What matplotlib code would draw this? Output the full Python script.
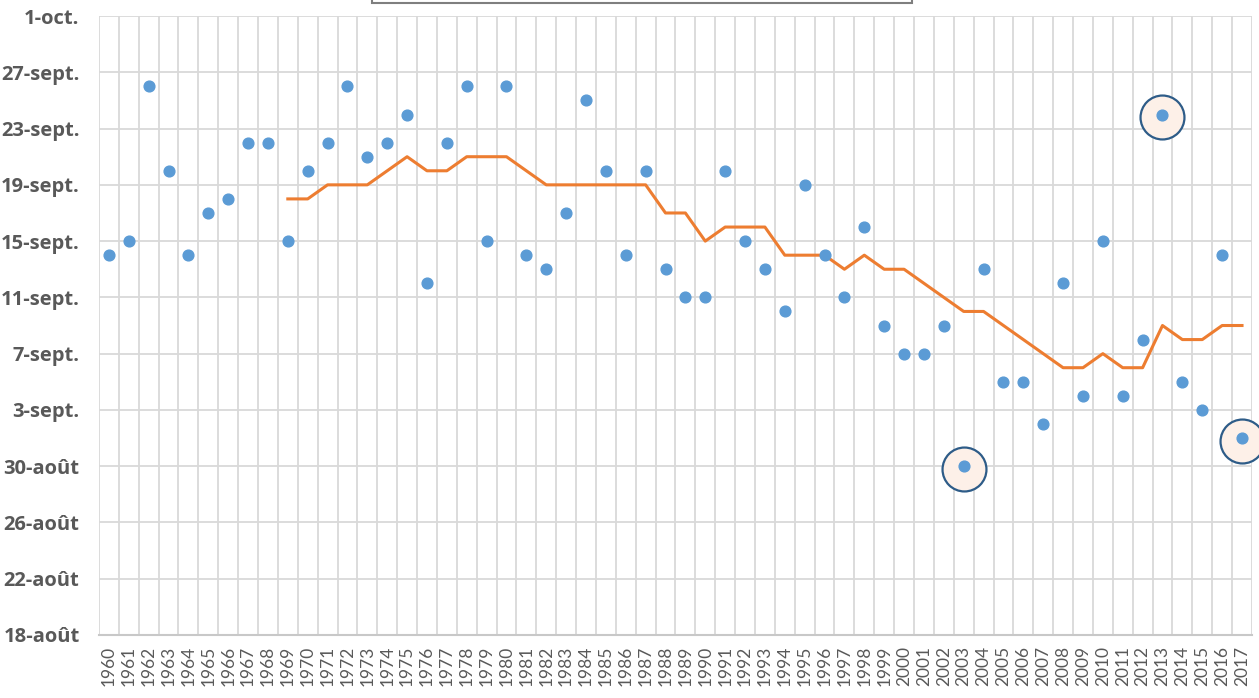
import numpy as np
import pandas as pd
import matplotlib
matplotlib.use("Agg")
from matplotlib import pyplot as plt
from matplotlib.patches import Rectangle

## data (dates as MM-DD)

years = list(range(1960, 2018))

dates = ['09-14', '09-15', '09-26', '09-20', '09-14', '09-17', '09-18', '09-22', '09-22', '09-15',
         '09-20', '09-22', '09-26', '09-21', '09-22', '09-24', '09-12', '09-22', '09-26', '09-15',
         '09-26', '09-14', '09-13', '09-17', '09-25', '09-20', '09-14', '09-20', '09-13', '09-11',
         '09-11', '09-20', '09-15', '09-13', '09-10', '09-19', '09-14', '09-11', '09-16', '09-09',
         '09-07', '09-07', '09-09', '08-30', '09-13', '09-05', '09-05', '09-02', '09-12', '09-04',
         '09-15', '09-04', '09-08', '09-24', '09-05', '09-03', '09-14', '09-01']

# moving average, starts in 1969
avg_dates = [None]*9 + ['09-18', '09-18', '09-19', '09-19', '09-19', '09-20', '09-21', '09-20', '09-20',
             '09-21', '09-21', '09-21', '09-20', '09-19', '09-19', '09-19', '09-19', '09-19', '09-19',
             '09-17', '09-17', '09-15', '09-16', '09-16', '09-16', '09-14', '09-14', '09-14', '09-13',
             '09-14', '09-13', '09-13', '09-12', '09-11', '09-10', '09-10', '09-09', '09-08', '09-07',
             '09-06', '09-06', '09-07', '09-06', '09-06', '09-09', '09-08', '09-08', '09-09', '09-09']

highlight_years = [2003, 2013, 2017]

ytick_labels = ['18-août', '22-août', '26-août', '30-août', '3-sept.', '7-sept.', '11-sept.',
                '15-sept.', '19-sept.', '23-sept.', '27-sept.', '1-oct.']

## convert to days since 18 Aug

start = pd.Timestamp('2000-08-18')
def to_day(s):
    if s is None:
        return np.nan
    return (pd.Timestamp('2000-' + s) - start).days

y   = np.array([to_day(s) for s in dates], dtype=float)
ya  = np.array([to_day(s) for s in avg_dates], dtype=float)
x   = np.arange(len(years))
hi  = [years.index(h) for h in highlight_years]

## figure

plt.rcParams['font.family'] = ['Lato', 'DejaVu Sans']
fig = plt.figure(figsize=(12.59, 6.98), dpi=100)
ax  = fig.add_axes([0.0786, 0.0903, 0.9158, 0.8867])

grid_c = '#d9d9d9'
ax.set_xlim(-0.5, len(years) - 0.5)
ax.set_ylim(0, 44)
ax.set_yticks(np.arange(0, 45, 4))
ax.set_yticklabels(ytick_labels, fontsize=14.5, fontweight='bold', color='#595959',
                   family=['Open Sans', 'DejaVu Sans'])
ax.set_xticks(x)
ax.set_xticklabels([str(v) for v in years], rotation=90, fontsize=12.5, color='#595959')
ax.set_xticks(np.arange(-0.5, len(years)), minor=True)
ax.tick_params(axis='both', which='both', length=0)
ax.tick_params(axis='y', pad=14)
ax.tick_params(axis='x', pad=8)
ax.grid(axis='y', which='major', color=grid_c, lw=1.3)
ax.grid(axis='x', which='minor', color=grid_c, lw=1.3)
ax.set_axisbelow(True)
for s in ['top', 'left', 'right']:
    ax.spines[s].set_visible(False)
ax.spines['bottom'].set_color('#c8c8c8')
ax.spines['bottom'].set_linewidth(1.5)

# highlight circles behind the points
ax.scatter(x[hi], y[hi] - 0.2, s=1000, facecolor='#fdf0e8', edgecolor='#2e5c88',
           linewidth=1.6, zorder=2, clip_on=False)

ax.plot(x, ya, color='#ed7d31', lw=2.2, zorder=3)
ax.scatter(x, y, s=60, color='#5b9bd5', zorder=4, clip_on=False)

# cut-off box at the top
fig.patches.append(Rectangle((372/1259, 1 - 3/698), (912 - 372)/1259, 0.05,
                             transform=fig.transFigure, facecolor='white',
                             edgecolor='#7f7f7f', lw=1.5))

fig.savefig('out.png', dpi=100)
